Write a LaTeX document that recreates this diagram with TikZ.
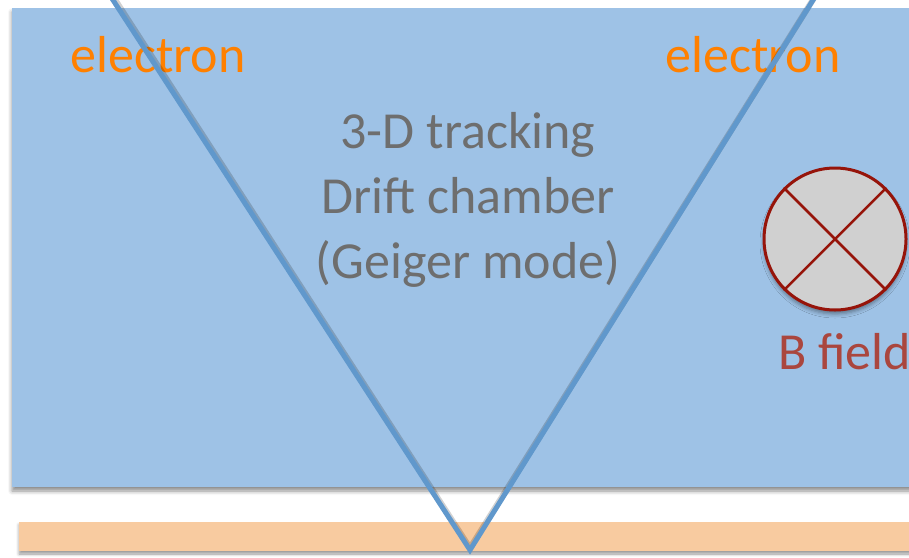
\documentclass[tikz,border=0pt]{standalone}
\usepackage{fontspec}
\setmainfont{Carlito}
\usetikzlibrary{shadows.blur}
\definecolor{chamber}{RGB}{158,194,230}
\definecolor{foil}{RGB}{248,203,160}
\definecolor{track}{RGB}{96,152,204}
\definecolor{elec}{RGB}{255,128,0}
\definecolor{greytext}{RGB}{110,110,110}
\definecolor{bred}{RGB}{170,70,62}
\definecolor{ring}{RGB}{150,20,10}
\definecolor{disc}{RGB}{208,208,208}
\tikzset{
  big/.style={font=\fontsize{52}{65}\selectfont, inner sep=0pt},
  trackline/.style={track, line width=5pt},
  trackshadow/.style={black, opacity=0.18, line width=6pt},
}
\begin{document}
\begin{tikzpicture}[x=1pt,y=-1pt]
\useasboundingbox (0,0) rectangle (909,557);
\begin{scope}
\clip (0,0) rectangle (909,557);
% drift chamber volume and foil
\fill[chamber, blur shadow={shadow xshift=0pt, shadow yshift=-4pt, shadow blur radius=4pt, shadow opacity=45}] (12,8) rectangle (940,487);
\fill[foil, blur shadow={shadow xshift=0pt, shadow yshift=-3pt, shadow blur radius=3pt, shadow opacity=40}] (19,522) rectangle (940,551);
% magnetic field symbol
\node[circle, draw=ring, fill=disc, line width=3pt, minimum size=142pt, inner sep=0pt,
      blur shadow={shadow xshift=0pt, shadow yshift=-4pt, shadow blur radius=4pt, shadow opacity=40}] (bf) at (835,239) {};
\draw[ring, line width=2.5pt] (bf.north west) -- (bf.south east);
\draw[ring, line width=2.5pt] (bf.north east) -- (bf.south west);
\node[big, bred, anchor=west] (bl) at (778,352) {B field};
% labels
\node[big, elec] (el) at (158,55) {electron};
\node[big, elec] (er) at (753,55) {electron};
\node[big, greytext, align=center] (dc) at (468,200) {3-D tracking\\Drift chamber\\(Geiger mode)};
% electron tracks
\coordinate (apex) at (470,550);
\coordinate (lt) at (100,-20);
\coordinate (rt) at (825.5,-20);
\draw[trackshadow] ([xshift=1pt,yshift=2pt]lt) -- ([yshift=2pt]apex) -- ([xshift=1pt,yshift=2pt]rt);
\draw[trackline, line join=miter] (lt) -- (apex) -- (rt);
\end{scope}
\end{tikzpicture}
\end{document}
